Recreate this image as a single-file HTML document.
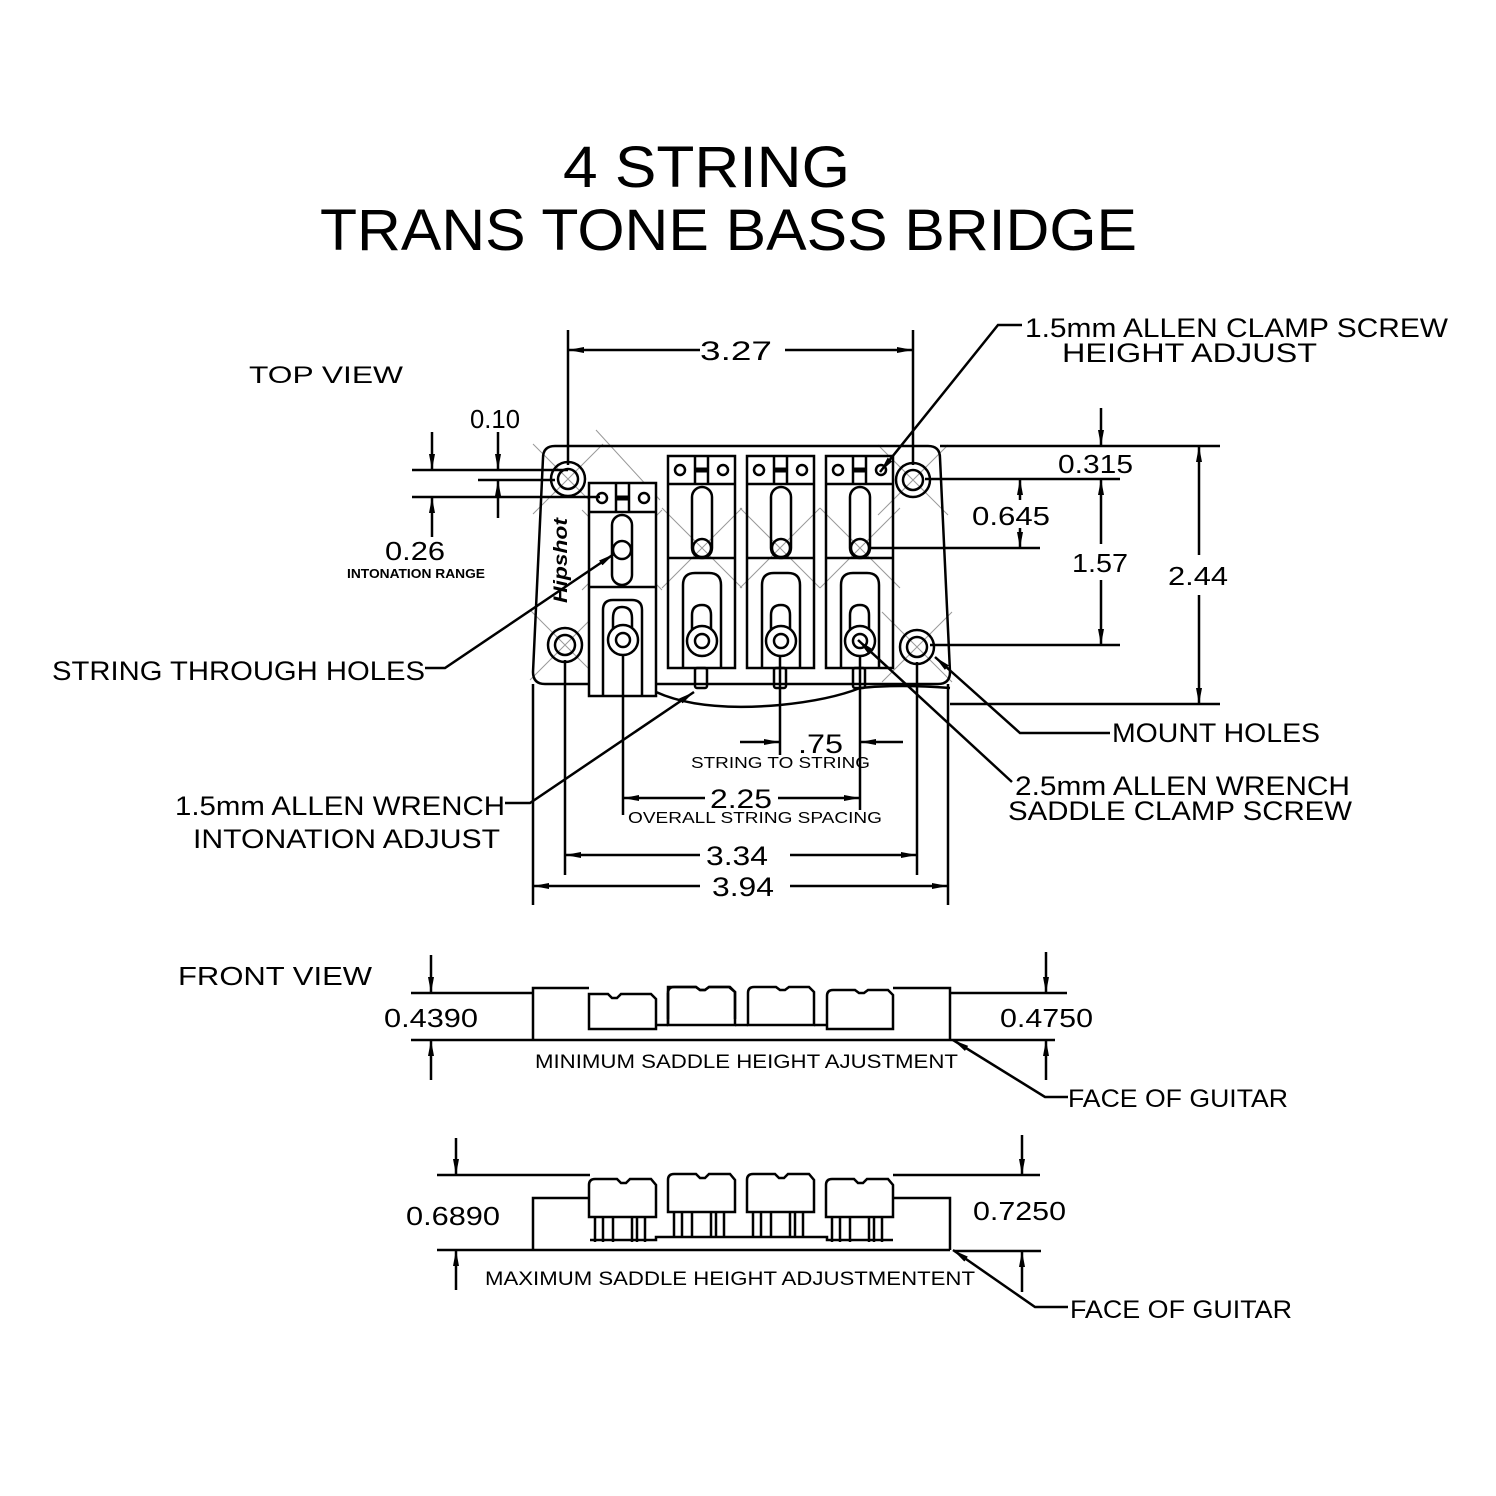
<!DOCTYPE html>
<html><head><meta charset="utf-8"><style>
html,body{margin:0;padding:0;background:#fff}
svg{display:block}
text{font-family:"Liberation Sans",sans-serif;fill:#000}
</style></head><body>
<svg width="1496" height="1496" viewBox="0 0 1496 1496" xmlns="http://www.w3.org/2000/svg">
<defs>
<marker id="a" markerUnits="userSpaceOnUse" markerWidth="16" markerHeight="8" refX="16" refY="4" orient="auto"><path d="M0,1 L16,4 L0,7 z" fill="#000"/></marker>
<marker id="b" markerUnits="userSpaceOnUse" markerWidth="16" markerHeight="8" refX="0" refY="4" orient="auto"><path d="M16,1 L0,4 L16,7 z" fill="#000"/></marker>
<g id="sad">
<rect x="0" y="456" width="67" height="212"/>
<line x1="0" y1="484" x2="67" y2="484"/>
<line x1="27" y1="456" x2="27" y2="484"/><line x1="40" y1="456" x2="40" y2="484"/>
<line x1="27" y1="470" x2="40" y2="470" stroke-width="5"/>
<circle cx="12" cy="470" r="5"/><circle cx="55" cy="470" r="5"/>
<line x1="0" y1="558" x2="67" y2="558"/>
<rect x="24" y="487" width="20" height="71" rx="10"/>
<circle cx="34" cy="548" r="9"/>
<path d="M15,668 V585 Q15,573 27,573 H41 Q53,573 53,585 V668"/>
<path d="M24,650 V615 Q24,605 34,605 Q43,605 43,615 V650"/>
<circle cx="34" cy="641" r="15" fill="#fff"/><circle cx="34" cy="641" r="7"/>
<rect x="27" y="668" width="12" height="20" rx="2"/>
</g>
<g id="fs">
<path d="M0,1025 V993 H28 L32,996 L37,996 L41,993 H62 L67,998 V1025"/>
</g>
<g id="ms">
<path d="M0,1215 V1183 Q0,1177 6,1177 H28 L32,1181 L37,1181 L41,1177 H62 L67,1183 V1215 Z"/>
<path d="M6,1215 V1240 M14,1215 V1240 M48,1215 V1240 M56,1215 V1240 M24,1215 V1240 M43,1215 V1240"/>
</g>
</defs>

<!-- Title -->
<text x="563" y="187" font-size="58" textLength="287" lengthAdjust="spacingAndGlyphs">4 STRING</text>
<text x="320" y="250" font-size="58" textLength="817" lengthAdjust="spacingAndGlyphs">TRANS TONE BASS BRIDGE</text>

<!-- thin cross lines -->
<g stroke="#999" stroke-width="1">
<path d="M533,444 L603,514 M603,444 L533,514"/>
<path d="M530,610 L600,680 M600,610 L530,680"/>
<path d="M878,445 L948,515 M948,445 L878,515"/>
<path d="M882,612 L952,682 M952,612 L882,682"/>
<path d="M582,510 L662,590 M662,510 L582,590"/>
<path d="M662,508 L742,588 M742,508 L662,588"/>
<path d="M740,508 L820,588 M820,508 L740,588"/>
<path d="M820,508 L900,588 M900,508 L820,588"/>
<path d="M590,600 L650,690 M596,430 L660,500"/>
</g>

<g fill="none" stroke="#000" stroke-width="2.5">
<!-- plate -->
<path d="M555,446 H928 Q940,446 940,458 L950,672 Q950,684 938,684 H545 Q533,684 533,672 L543,458 Q543,446 555,446 Z"/>
<!-- mount holes -->
<circle cx="568" cy="479" r="17"/><circle cx="568" cy="479" r="10"/>
<circle cx="565" cy="645" r="17"/><circle cx="565" cy="645" r="10"/>
<circle cx="913" cy="480" r="17"/><circle cx="913" cy="480" r="10"/>
<circle cx="917" cy="647" r="17"/><circle cx="917" cy="647" r="10"/>
<!-- saddle 1 -->
<rect x="589" y="483" width="67" height="213" fill="#fff"/>
<line x1="589" y1="512" x2="656" y2="512"/>
<line x1="616" y1="483" x2="616" y2="512"/><line x1="629" y1="483" x2="629" y2="512"/>
<line x1="616" y1="498" x2="629" y2="498" stroke-width="5"/>
<circle cx="602" cy="498" r="5"/><circle cx="644" cy="498" r="5"/>
<line x1="589" y1="587" x2="656" y2="587"/>
<rect x="612" y="515" width="20" height="70" rx="10"/>
<circle cx="622" cy="550" r="9"/>
<path d="M603,696 V610 Q603,600 613,600 H632 Q642,600 642,610 V696"/>
<path d="M613,630 V618 Q613,607 622,607 Q632,607 632,618 V630"/>
<circle cx="623" cy="640" r="15" fill="#fff"/><circle cx="623" cy="640" r="7"/>
<!-- saddles 2-4 -->
<use href="#sad" x="668"/><use href="#sad" x="747"/><use href="#sad" x="826"/>
<!-- bottom curve -->
<path d="M656,692 Q700,712 780,705 Q830,700 860,688 Q900,684 950,688"/>
</g>
<text transform="translate(567,603) rotate(-90)" font-size="19" font-weight="bold" font-style="italic" textLength="85" lengthAdjust="spacingAndGlyphs">Hipshot</text>

<g fill="none" stroke="#000" stroke-width="2.5">
<!-- extension lines -->
<line x1="568" y1="330" x2="568" y2="465"/>
<line x1="913" y1="330" x2="913" y2="465"/>
<line x1="533" y1="684" x2="533" y2="905"/>
<line x1="948" y1="684" x2="948" y2="905"/>
<line x1="565" y1="660" x2="565" y2="875"/>
<line x1="917" y1="662" x2="917" y2="875"/>
<line x1="623" y1="655" x2="623" y2="815"/>
<line x1="780" y1="655" x2="780" y2="755"/>
<line x1="860" y1="655" x2="860" y2="810"/>
<!-- 3.27 -->
<line x1="568" y1="350" x2="700" y2="350" marker-start="url(#b)"/>
<line x1="785" y1="350" x2="913" y2="350" marker-end="url(#a)"/>
<!-- left horizontal lines -->
<line x1="412" y1="470" x2="568" y2="470"/>
<line x1="478" y1="480" x2="555" y2="480"/>
<line x1="412" y1="497" x2="600" y2="497"/>
<line x1="432" y1="432" x2="432" y2="470" marker-end="url(#a)"/>
<line x1="432" y1="537" x2="432" y2="497" marker-end="url(#a)"/>
<line x1="498" y1="432" x2="498" y2="470" marker-end="url(#a)"/>
<line x1="498" y1="518" x2="498" y2="480" marker-end="url(#a)"/>
<!-- right dims -->
<line x1="940" y1="446" x2="1220" y2="446"/>
<line x1="925" y1="479" x2="1120" y2="479"/>
<line x1="870" y1="548" x2="1040" y2="548"/>
<line x1="930" y1="645" x2="1120" y2="645"/>
<line x1="950" y1="704" x2="1220" y2="704"/>
<line x1="1101" y1="408" x2="1101" y2="446" marker-end="url(#a)"/>
<line x1="1101" y1="544" x2="1101" y2="479" marker-end="url(#a)"/>
<line x1="1101" y1="580" x2="1101" y2="645" marker-end="url(#a)"/>
<line x1="1020" y1="500" x2="1020" y2="479" marker-end="url(#a)"/>
<line x1="1020" y1="528" x2="1020" y2="548" marker-end="url(#a)"/>
<line x1="1199" y1="555" x2="1199" y2="446" marker-end="url(#a)"/>
<line x1="1199" y1="595" x2="1199" y2="704" marker-end="url(#a)"/>
<!-- bottom dims -->
<line x1="740" y1="742" x2="780" y2="742" marker-end="url(#a)"/>
<line x1="903" y1="742" x2="860" y2="742" marker-end="url(#a)"/>
<line x1="623" y1="798" x2="705" y2="798" marker-start="url(#b)"/>
<line x1="778" y1="798" x2="860" y2="798" marker-end="url(#a)"/>
<line x1="565" y1="855" x2="700" y2="855" marker-start="url(#b)"/>
<line x1="790" y1="855" x2="917" y2="855" marker-end="url(#a)"/>
<line x1="533" y1="886" x2="700" y2="886" marker-start="url(#b)"/>
<line x1="790" y1="886" x2="948" y2="886" marker-end="url(#a)"/>
<!-- leaders -->
<path d="M1022,325 H998 L880,472" marker-end="url(#a)"/>
<path d="M425,668 H445 L614,554" marker-end="url(#a)"/>
<path d="M505,803 H530 L694,692" marker-end="url(#a)"/>
<path d="M1110,733 H1020 L935,657" marker-end="url(#a)"/>
<path d="M1012,782 L858,640" marker-end="url(#a)"/>

<!-- FRONT VIEW min -->
<line x1="411" y1="993" x2="533" y2="993"/>
<line x1="950" y1="993" x2="1067" y2="993"/>
<line x1="411" y1="1040" x2="1055" y2="1040"/>
<line x1="431" y1="955" x2="431" y2="993" marker-end="url(#a)"/>
<line x1="431" y1="1080" x2="431" y2="1040" marker-end="url(#a)"/>
<line x1="1046" y1="952" x2="1046" y2="993" marker-end="url(#a)"/>
<line x1="1046" y1="1080" x2="1046" y2="1040" marker-end="url(#a)"/>
<path d="M533,1040 V988 H589 M893,988 H950 V1040"/>
<path d="M656,1025 H668 M735,1025 H748 M814,1025 H827"/>
<path d="M589,1029 V994 H608 L612,998 L617,998 L621,994 H651 L656,999 V1029 Z"/>
<use href="#fs" x="668" y="-6"/>
<path d="M668,1025 V993"/>
<path d="M748,1025 V993 Q748,987 754,987 H776 L780,990 L785,990 L789,987 H809 L814,992 V1025 Z"/>
<path d="M668,1025 V993 Q668,987 674,987 H696 L700,990 L705,990 L709,987 H729 L735,992 V1025 Z"/>
<path d="M827,1029 V996 Q827,990 833,990 H855 L859,993 L864,993 L868,990 H888 L893,995 V1029 Z"/>
<path d="M953,1040 L1045,1097 H1068" marker-start="url(#b)"/>

<!-- FRONT VIEW max -->
<line x1="437" y1="1175" x2="590" y2="1175"/>
<line x1="893" y1="1175" x2="1040" y2="1175"/>
<line x1="437" y1="1250" x2="950" y2="1250"/>
<line x1="955" y1="1251" x2="1041" y2="1251"/>
<line x1="456" y1="1138" x2="456" y2="1175" marker-end="url(#a)"/>
<line x1="456" y1="1290" x2="456" y2="1250" marker-end="url(#a)"/>
<line x1="1022" y1="1135" x2="1022" y2="1175" marker-end="url(#a)"/>
<line x1="1022" y1="1292" x2="1022" y2="1251" marker-end="url(#a)"/>
<path d="M533,1250 V1198 H590 M893,1198 H950 V1250"/>
<path d="M590,1240 H656 V1237 H827 V1240 H893"/>
<use href="#ms" x="589" y="2"/>
<use href="#ms" x="668" y="-3"/>
<use href="#ms" x="747" y="-3"/>
<use href="#ms" x="826" y="2"/>
<path d="M953,1250 L1035,1307 H1068" marker-start="url(#b)"/>
</g>

<!-- labels -->
<text x="249" y="383" font-size="24" textLength="154" lengthAdjust="spacingAndGlyphs">TOP VIEW</text>
<text x="700" y="360" font-size="27" textLength="72" lengthAdjust="spacingAndGlyphs">3.27</text>
<text x="1025" y="337" font-size="27" textLength="423" lengthAdjust="spacingAndGlyphs">1.5mm ALLEN CLAMP SCREW</text>
<text x="1062" y="362" font-size="27" textLength="255" lengthAdjust="spacingAndGlyphs">HEIGHT ADJUST</text>
<text x="470" y="428" font-size="26" textLength="50" lengthAdjust="spacingAndGlyphs">0.10</text>
<text x="385" y="560" font-size="26" textLength="60" lengthAdjust="spacingAndGlyphs">0.26</text>
<text x="347" y="578" font-size="13" font-weight="bold" textLength="138" lengthAdjust="spacingAndGlyphs">INTONATION RANGE</text>
<text x="1058" y="473" font-size="26" textLength="75" lengthAdjust="spacingAndGlyphs">0.315</text>
<text x="972" y="525" font-size="26" textLength="78" lengthAdjust="spacingAndGlyphs">0.645</text>
<text x="1072" y="572" font-size="26" textLength="56" lengthAdjust="spacingAndGlyphs">1.57</text>
<text x="1168" y="585" font-size="26" textLength="60" lengthAdjust="spacingAndGlyphs">2.44</text>
<text x="52" y="680" font-size="27" textLength="373" lengthAdjust="spacingAndGlyphs">STRING THROUGH HOLES</text>
<text x="1112" y="742" font-size="27" textLength="208" lengthAdjust="spacingAndGlyphs">MOUNT HOLES</text>
<text x="1015" y="795" font-size="27" textLength="335" lengthAdjust="spacingAndGlyphs">2.5mm ALLEN WRENCH</text>
<text x="1008" y="820" font-size="27" textLength="344" lengthAdjust="spacingAndGlyphs">SADDLE CLAMP SCREW</text>
<text x="175" y="815" font-size="27" textLength="330" lengthAdjust="spacingAndGlyphs">1.5mm ALLEN WRENCH</text>
<text x="193" y="848" font-size="27" textLength="307" lengthAdjust="spacingAndGlyphs">INTONATION ADJUST</text>
<text x="798" y="753" font-size="27" textLength="45" lengthAdjust="spacingAndGlyphs">.75</text>
<text x="691" y="768" font-size="16" textLength="179" lengthAdjust="spacingAndGlyphs">STRING TO STRING</text>
<text x="710" y="808" font-size="27" textLength="62" lengthAdjust="spacingAndGlyphs">2.25</text>
<text x="628" y="823" font-size="16" textLength="254" lengthAdjust="spacingAndGlyphs">OVERALL STRING SPACING</text>
<text x="706" y="865" font-size="27" textLength="62" lengthAdjust="spacingAndGlyphs">3.34</text>
<text x="712" y="896" font-size="27" textLength="62" lengthAdjust="spacingAndGlyphs">3.94</text>
<text x="178" y="985" font-size="26" textLength="194" lengthAdjust="spacingAndGlyphs">FRONT VIEW</text>
<text x="384" y="1027" font-size="26" textLength="94" lengthAdjust="spacingAndGlyphs">0.4390</text>
<text x="1000" y="1027" font-size="26" textLength="93" lengthAdjust="spacingAndGlyphs">0.4750</text>
<text x="535" y="1068" font-size="19" textLength="423" lengthAdjust="spacingAndGlyphs">MINIMUM SADDLE HEIGHT AJUSTMENT</text>
<text x="1068" y="1107" font-size="25" textLength="220" lengthAdjust="spacingAndGlyphs">FACE OF GUITAR</text>
<text x="406" y="1225" font-size="26" textLength="94" lengthAdjust="spacingAndGlyphs">0.6890</text>
<text x="973" y="1220" font-size="26" textLength="93" lengthAdjust="spacingAndGlyphs">0.7250</text>
<text x="485" y="1285" font-size="19" textLength="490" lengthAdjust="spacingAndGlyphs">MAXIMUM SADDLE HEIGHT ADJUSTMENTENT</text>
<text x="1070" y="1318" font-size="25" textLength="222" lengthAdjust="spacingAndGlyphs">FACE OF GUITAR</text>
</svg>
</body></html>
